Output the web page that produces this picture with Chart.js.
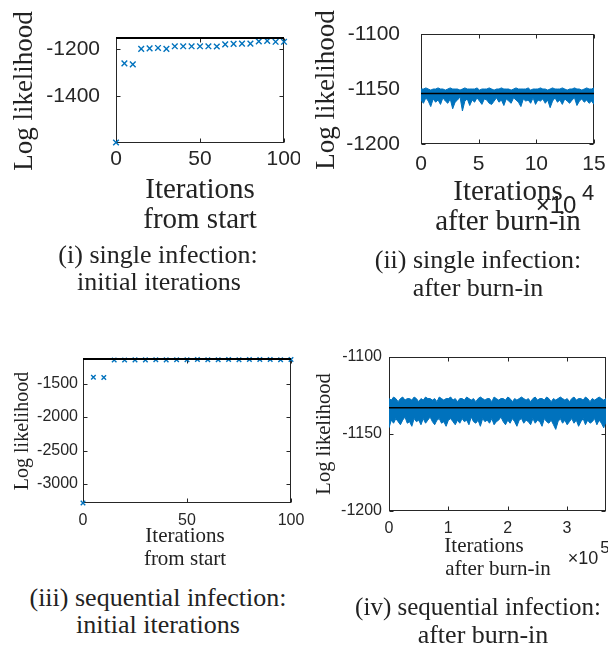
<!DOCTYPE html>
<html>
<head>
<meta charset="utf-8">
<script src="https://cdn.jsdelivr.net/npm/chart.js@4.4.1/dist/chart.umd.min.js"></script>
<style>
  body { margin: 0; background: #fff; width: 608px; height: 652px; position: relative; overflow: hidden; }
  canvas { position: absolute; }
  .t { position: absolute; white-space: nowrap; color: #222; font-family: 'Liberation Serif', 'Times New Roman', serif; line-height: 1; }
</style>
</head>
<body>
<canvas id="c1"></canvas>
<canvas id="c2"></canvas>
<canvas id="c3"></canvas>
<canvas id="c4"></canvas>
<script>
// initial iterations (every 5th iteration from start)
const initIters = [0, 5, 10, 15, 20, 25, 30, 35, 40, 45, 50, 55, 60, 65, 70, 75, 80, 85, 90, 95, 100];
const singleInit = [-1595, -1261, -1265, -1200, -1198, -1196, -1200, -1189, -1189, -1189, -1189,
                    -1189, -1190, -1181, -1179, -1178, -1178, -1168, -1166, -1170, -1170];
const seqInit = [-3284, -1405, -1410, -1148, -1147, -1146, -1146, -1145, -1146, -1144, -1145,
                 -1142, -1143, -1144, -1142, -1144, -1141, -1142, -1141, -1143, -1140];

// posterior mean log likelihood (black line)
const singleMean = -1154;
const seqMean = -1133;

// traces after burn-in: upper and lower envelope of the sampled log likelihood
const singleTraceEnd = 150000;
const singleTraceHigh = [
  -1150, -1150, -1149, -1150, -1151, -1150, -1150, -1149, -1150, -1150,
  -1151, -1150, -1149, -1150, -1150, -1150, -1151, -1150, -1149, -1150,
  -1150, -1150, -1150, -1149, -1151, -1150, -1150, -1150, -1149, -1150,
  -1151, -1150, -1150, -1149, -1150, -1150, -1150, -1151, -1150, -1149,
  -1150, -1150, -1150, -1150, -1149, -1151, -1150, -1150, -1150, -1149,
  -1150, -1150, -1151, -1150, -1149, -1150, -1150, -1150, -1149, -1150,
  -1151, -1150, -1150, -1149, -1150, -1150, -1151, -1150, -1149, -1150,
  -1150, -1149];
const singleTraceLow = [
  -1160, -1163, -1158, -1161, -1166, -1159, -1162, -1160, -1164, -1158,
  -1161, -1163, -1159, -1168, -1162, -1160, -1157, -1170, -1161, -1159,
  -1165, -1160, -1162, -1158, -1161, -1164, -1159, -1160, -1163, -1164,
  -1161, -1158, -1162, -1160, -1165, -1159, -1161, -1163, -1158, -1160,
  -1162, -1166, -1159, -1161, -1160, -1163, -1158, -1164, -1160, -1161,
  -1159, -1163, -1160, -1167, -1161, -1158, -1162, -1160, -1164, -1159,
  -1161, -1163, -1160, -1158, -1165, -1161, -1159, -1162, -1160, -1163,
  -1161, -1164];

const seqTraceEnd = 366000;
const seqTraceHigh = [
  -1127, -1128, -1126, -1127, -1129, -1127, -1126, -1128, -1127, -1127,
  -1128, -1126, -1127, -1129, -1127, -1128, -1126, -1127, -1127, -1128,
  -1127, -1129, -1126, -1127, -1128, -1127, -1127, -1126, -1128, -1127,
  -1129, -1127, -1127, -1128, -1126, -1127, -1128, -1127, -1129, -1127,
  -1126, -1127, -1128, -1127, -1127, -1129, -1126, -1127, -1128, -1127,
  -1127, -1128, -1126, -1127, -1129, -1127, -1128, -1127, -1126, -1127,
  -1128, -1127, -1129, -1127, -1126, -1128, -1127, -1127, -1128, -1126,
  -1127, -1129, -1127, -1128, -1127, -1126, -1127, -1128, -1127, -1129,
  -1127, -1126, -1128, -1127, -1127, -1128, -1126, -1127, -1129, -1127,
  -1128, -1127, -1126, -1127, -1128, -1127];
const seqTraceLow = [
  -1146, -1141, -1143, -1140, -1142, -1144, -1141, -1139, -1143, -1142,
  -1145, -1140, -1142, -1141, -1144, -1140, -1143, -1141, -1139, -1142,
  -1144, -1141, -1140, -1143, -1142, -1145, -1141, -1140, -1142, -1144,
  -1141, -1143, -1140, -1142, -1141, -1144, -1139, -1142, -1143, -1141,
  -1145, -1140, -1142, -1141, -1143, -1140, -1144, -1142, -1141, -1139,
  -1142, -1144, -1141, -1143, -1140, -1142, -1145, -1141, -1140, -1143,
  -1141, -1142, -1144, -1140, -1143, -1141, -1142, -1145, -1140, -1142,
  -1143, -1141, -1144, -1147, -1142, -1140, -1143, -1141, -1144, -1142,
  -1140, -1143, -1141, -1145, -1142, -1140, -1144, -1141, -1143, -1142,
  -1140, -1144, -1141, -1143, -1146, -1142];

// axis ticks
const xTicksInit = [0, 50, 100];
const yTicksSingleInit = [-1400, -1200];
const yTicksSeqInit = [-3000, -2500, -2000, -1500];
const xTicksSingleTrace = [0, 50000, 100000, 150000];
const xTicksSeqTrace = [0, 100000, 200000, 300000];
const yTicksTrace = [-1200, -1150, -1100];

const BLUE = '#0072BD';
const AXIS = '#262626';
const SANS = "'Liberation Sans', Arial, sans-serif";

const boxPlugin = {
  id: 'box',
  beforeDatasetsDraw(chart) {
    const {ctx, chartArea: c, scales} = chart;
    const L = Math.round(c.left) + 0.5, R = Math.round(c.right) - 0.5;
    const T = Math.round(c.top) + 0.5, B = Math.round(c.bottom) - 0.5;
    ctx.save();
    ctx.strokeStyle = AXIS;
    ctx.lineWidth = 1;
    ctx.strokeRect(L, T, R - L, B - T);
    ctx.beginPath();
    scales.x.ticks.forEach(t => {
      const p = Math.round(scales.x.getPixelForValue(t.value)) + 0.5;
      ctx.moveTo(p, B); ctx.lineTo(p, B - 4);
      ctx.moveTo(p, T); ctx.lineTo(p, T + 4);
    });
    scales.y.ticks.forEach(t => {
      const p = Math.round(scales.y.getPixelForValue(t.value)) + 0.5;
      ctx.moveTo(L, p); ctx.lineTo(L + 4, p);
      ctx.moveTo(R, p); ctx.lineTo(R - 4, p);
    });
    ctx.stroke();
    ctx.restore();
  }
};

function panel(id, o) {
  const el = document.getElementById(id);
  el.style.left = o.box[0] + 'px';
  el.style.top = o.box[1] + 'px';
  el.width = o.box[2];
  el.height = o.box[3];
  const a = o.area;
  const font = {family: SANS, size: o.tickSize, lineHeight: 1.2};
  return new Chart(el, {
    type: 'line',
    data: {datasets: o.datasets},
    options: {
      responsive: false,
      animation: false,
      events: [],
      layout: {padding: {left: 0, top: a[1] - o.box[1], right: o.box[0] + o.box[2] - a[2], bottom: 0}},
      plugins: {legend: {display: false}, tooltip: {enabled: false}},
      scales: {
        x: {
          type: 'linear', min: o.xMin, max: o.xMax,
          grid: {display: false, drawTicks: false}, border: {display: false},
          ticks: {font, color: AXIS, padding: o.xPad, maxRotation: 0, autoSkip: false, callback: o.xFmt},
          afterBuildTicks: s => { s.ticks = o.xTicks.map(v => ({value: v})); },
          afterFit: s => { s.height = o.box[1] + o.box[3] - a[3]; s.paddingLeft = 0; s.paddingRight = 0; }
        },
        y: {
          type: 'linear', min: o.yMin, max: o.yMax,
          grid: {display: false, drawTicks: false}, border: {display: false},
          ticks: {font, color: AXIS, padding: o.yPad, autoSkip: false, callback: v => String(v)},
          afterBuildTicks: s => { s.ticks = o.yTicks.map(v => ({value: v})); },
          afterFit: s => { s.width = a[0] - o.box[0]; s.paddingTop = 0; s.paddingBottom = 0; }
        }
      }
    },
    plugins: [boxPlugin]
  });
}

function meanLine(y, x0, x1, w) {
  return {data: [{x: x0, y}, {x: x1, y}], borderColor: '#000', borderWidth: w, pointRadius: 0, clip: false};
}
function crosses(xs, ys, r) {
  return {data: xs.map((x, i) => ({x, y: ys[i]})), showLine: false, pointStyle: 'crossRot',
          pointRadius: r, pointBorderWidth: 1.4, pointBorderColor: BLUE, borderColor: BLUE, clip: 6};
}
function band(high, low, end) {
  const n = high.length - 1;
  const pts = arr => arr.map((y, i) => ({x: i * end / n, y}));
  return [
    {data: pts(high), borderColor: BLUE, borderWidth: 1, pointRadius: 0, backgroundColor: BLUE, fill: '+1'},
    {data: pts(low), borderColor: BLUE, borderWidth: 1, pointRadius: 0}
  ];
}

panel('c1', {
  box: [0, 0, 300, 180], area: [116, 38, 284, 143], tickSize: 21, xPad: 4, yPad: 16,
  xMin: 0, xMax: 100, yMin: -1597, yMax: singleMean, xTicks: xTicksInit, yTicks: yTicksSingleInit,
  xFmt: v => String(v),
  datasets: [meanLine(singleMean, 0, 100, 2), crosses(initIters, singleInit, 4)]
});
panel('c2', {
  box: [300, 0, 308, 180], area: [421, 34, 594, 144], tickSize: 21, xPad: 8, yPad: 21,
  xMin: 0, xMax: singleTraceEnd, yMin: -1200, yMax: -1100, xTicks: xTicksSingleTrace, yTicks: yTicksTrace,
  xFmt: v => String(v / 10000),
  datasets: [meanLine(singleMean, 0, singleTraceEnd, 1.5), ...band(singleTraceHigh, singleTraceLow, singleTraceEnd)]
});
panel('c3', {
  box: [0, 330, 310, 215], area: [83, 359, 291, 503], tickSize: 16, xPad: 8, yPad: 5,
  xMin: 0, xMax: 100, yMin: -3284, yMax: seqMean, xTicks: xTicksInit, yTicks: yTicksSeqInit,
  xFmt: v => String(v),
  datasets: [meanLine(seqMean, 0, 100, 2), crosses(initIters, seqInit, 3.2)]
});
panel('c4', {
  box: [300, 330, 308, 215], area: [389, 357, 606, 511], tickSize: 16, xPad: 8, yPad: 7,
  xMin: 0, xMax: seqTraceEnd, yMin: -1200, yMax: -1100, xTicks: xTicksSeqTrace, yTicks: yTicksTrace,
  xFmt: v => String(v / 100000),
  datasets: [meanLine(seqMean, 0, seqTraceEnd, 1.5), ...band(seqTraceHigh, seqTraceLow, seqTraceEnd)]
});

// text labels: (text, centre x, baseline y, size, options)
function addText(txt, cx, base, size, opt) {
  opt = opt || {};
  const d = document.createElement('div');
  d.className = 't';
  d.textContent = txt;
  d.style.fontSize = size + 'px';
  d.style.left = cx + 'px';
  if (opt.sans) d.style.fontFamily = SANS;
  if (opt.rot) {
    d.style.top = base + 'px';
    d.style.transform = 'translate(-50%, -50%) rotate(-90deg)';
  } else {
    d.style.top = (base - 0.84 * size) + 'px';
    d.style.transform = 'translateX(-50%)';
  }
  document.body.appendChild(d);
}

addText('Log likelihood', 23, 91, 27, {rot: true});
addText('Iterations', 200, 198, 29);
addText('from start', 200, 228, 29);
addText('(i) single infection:', 158, 264, 26);
addText('initial iterations', 159, 291, 26);

addText('Log likelihood', 325, 90, 27, {rot: true});
addText('Iterations', 508, 200, 29);
addText('after burn-in', 508, 230, 29);
addText('×10', 556, 213, 24, {sans: true});
addText('4', 588, 200, 22, {sans: true});
addText('(ii) single infection:', 478, 269, 26);
addText('after burn-in', 478, 297, 26);

addText('Log likelihood', 21, 431, 20, {rot: true});
addText('Iterations', 185, 543, 21);
addText('from start', 185, 566, 21);
addText('(iii) sequential infection:', 158, 607, 26);
addText('initial iterations', 158, 634, 26);

addText('Log likelihood', 323, 434, 20.5, {rot: true});
addText('Iterations', 484, 553, 21);
addText('after burn-in', 498, 576, 21);
addText('×10', 583, 564, 18, {sans: true});
addText('5', 605, 553, 17, {sans: true});
addText('(iv) sequential infection:', 478, 615, 25);
addText('after burn-in', 483, 644, 26);
</script>
</body>
</html>
